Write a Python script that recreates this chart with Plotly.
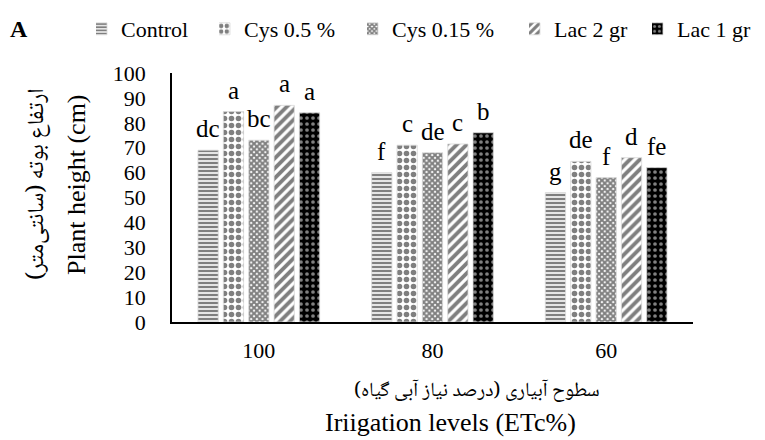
import plotly.graph_objects as go

# ---- data ----
categories = ["100", "80", "60"]
series_names = ["Control", "Cys 0.5 %", "Cys 0.15 %", "Lac 2 gr", "Lac 1 gr"]
control = [69, 60, 52]
cys_05 = [84.5, 71, 64.5]
cys_015 = [73, 68, 58]
lac_2 = [87, 71.5, 66]
lac_1 = [84, 76, 62]
letters_control = ["dc", "f", "g"]
letters_cys_05 = ["a", "c", "de"]
letters_cys_015 = ["bc", "de", "f"]
letters_lac_2 = ["a", "c", "d"]
letters_lac_1 = ["a", "b", "fe"]
y_ticks = [0, 10, 20, 30, 40, 50, 60, 70, 80, 90, 100]

values = [control, cys_05, cys_015, lac_2, lac_1]
letters = [letters_control, letters_cys_05, letters_cys_015, letters_lac_2, letters_lac_1]

FONT = "Liberation Serif, Times New Roman, serif"
FA_FONT = "Noto Naskh Arabic, Noto Sans Arabic, DejaVu Sans, serif"
FS = 22       # ticks, legend
FS_T = 26     # axis titles
FS_L = 25     # significance letters

patterns = [
    dict(shape="-", fgcolor="black", bgcolor="white", size=4, solidity=0.6),
    dict(shape=".", fgcolor="black", bgcolor="white", size=7, solidity=0.5),
    dict(shape="x", fgcolor="black", bgcolor="white", size=4, solidity=0.75),
    dict(shape="/", fgcolor="black", bgcolor="white", size=7, solidity=0.55),
    dict(shape=".", fgcolor="white", bgcolor="black", size=6, solidity=0.3),
]

BARGAP = 0.27
BARGROUPGAP = 0.2

legend_names = ["legend", "legend2", "legend3", "legend4", "legend5"]
legend_left_px = [96, 219, 367, 529, 652]

fig = go.Figure()
for name, vals, pat, lg in zip(series_names, values, patterns, legend_names):
    fig.add_trace(go.Bar(
        name=name, x=categories, y=vals, legend=lg,
        marker=dict(color="white", pattern=pat, line=dict(color="#d9d9d9", width=0.8)),
        hoverinfo="skip",
    ))

# significance letters above bars (data coords of grouped bar centres)
n = len(series_names)
slot = (1 - BARGAP) / n
annotations = []
for i, (labs, vals) in enumerate(zip(letters, values)):
    off = -(1 - BARGAP) / 2 + slot * (i + 0.5)
    for ci, (lab, v) in enumerate(zip(labs, vals)):
        annotations.append(dict(
            x=ci + off, y=v, xref="x", yref="y", text=lab, showarrow=False,
            yanchor="bottom", yshift=6, font=dict(family=FONT, size=FS_L, color="black"),
        ))

L, R, T, B = 172, 72, 73, 118
W, H = 765, 440
PW, PH = W - L - R, H - T - B


def px_x(px):
    return (px - L) / PW


def px_y(py):
    return (H - B - py) / PH


annotations += [
    dict(text="A", xref="paper", yref="paper", x=px_x(8), y=px_y(29), xanchor="left",
         yanchor="middle", showarrow=False,
         font=dict(family=FONT, size=FS + 2, color="black", weight="bold")),
    dict(text="سطوح آبیاری (درصد نیاز آبی گیاه)", xref="paper", yref="paper",
         x=px_x(477), y=px_y(392), xanchor="center", yanchor="middle", showarrow=False,
         font=dict(family=FA_FONT, size=20, color="black")),
    dict(text="Iriigation levels (ETc%)", xref="paper", yref="paper",
         x=px_x(450), y=px_y(422), xanchor="center", yanchor="middle", showarrow=False,
         font=dict(family=FONT, size=FS_T, color="black")),
    dict(text="ارتفاع بوته (سانتی\u200cمتر)", xref="paper", yref="paper",
         x=px_x(38), y=px_y(184), xanchor="center", yanchor="middle", textangle=-90,
         showarrow=False, font=dict(family=FA_FONT, size=23, color="black")),
    dict(text="Plant height (cm)", xref="paper", yref="paper",
         x=px_x(76), y=px_y(185), xanchor="center", yanchor="middle", textangle=-90,
         showarrow=False, font=dict(family=FONT, size=FS_T, color="black")),
]

legend_common = dict(
    orientation="h", xref="container", yref="container",
    yanchor="middle", xanchor="left", y=1 - 29 / H,
    font=dict(family=FONT, size=FS, color="black"),
    bgcolor="rgba(0,0,0,0)", itemwidth=30, indentation=-15,
)
legend_layout = {}
for lg, lx in zip(legend_names, legend_left_px):
    legend_layout[lg] = dict(legend_common, x=lx / W)

fig.update_layout(
    width=W, height=H,
    margin=dict(l=L, r=R, t=T, b=B, autoexpand=False),
    paper_bgcolor="white", plot_bgcolor="white",
    barmode="group", bargap=BARGAP, bargroupgap=BARGROUPGAP,
    font=dict(family=FONT, size=FS, color="black"),
    showlegend=True,
    annotations=annotations,
    xaxis=dict(
        type="category", showline=True, linecolor="black", linewidth=2,
        ticks="", showgrid=False, tickfont=dict(family=FONT, size=FS),
        ticklabelstandoff=8,
    ),
    yaxis=dict(
        range=[0, 100], tickvals=y_ticks, showline=True, linecolor="black",
        linewidth=1.5, ticks="", showgrid=False, zeroline=False,
        tickfont=dict(family=FONT, size=FS), ticklabelstandoff=20,
    ),
    **legend_layout,
)

fig.write_html("out.html", config={"displayModeBar": False},
               post_script="document.body.style.margin='0';")
